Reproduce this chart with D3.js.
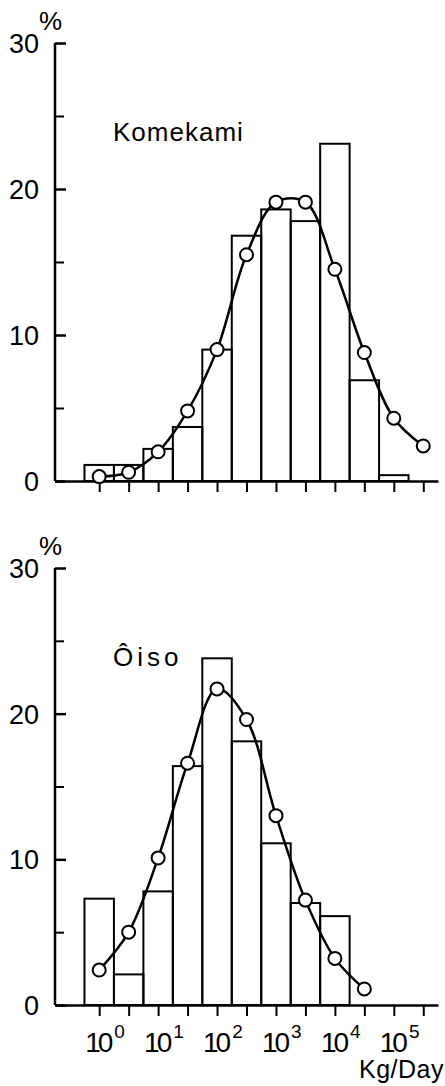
<!DOCTYPE html>
<html>
<head>
<meta charset="utf-8">
<script src="https://cdn.jsdelivr.net/npm/d3@7"></script>
<style>
  body { margin: 0; background: #fff; }
  svg { display: block; }
  .lbl { font-family: "Liberation Sans", Arial, sans-serif; fill: #000; }
</style>
</head>
<body>
<svg id="chart" width="445" height="1086"></svg>
<script>
// Bin centres as log10 exponents (each bin is half a decade wide)
const topBinExp = [0, 0.5, 1, 1.5, 2, 2.5, 3, 3.5, 4, 4.5, 5];
const topBars = [1.1, 1.1, 2.2, 3.7, 9.0, 16.8, 18.6, 17.8, 23.1, 6.9, 0.4];
const topPointExp = [0, 0.5, 1, 1.5, 2, 2.5, 3, 3.5, 4, 4.5, 5, 5.5];
const topPoints = [0.3, 0.6, 2.0, 4.8, 9.0, 15.5, 19.1, 19.1, 14.5, 8.8, 4.3, 2.4];

const botBinExp = [0, 0.5, 1, 1.5, 2, 2.5, 3, 3.5, 4];
const botBars = [7.3, 2.1, 7.8, 16.4, 23.8, 18.1, 11.1, 7.0, 6.1];
const botPointExp = [0, 0.5, 1, 1.5, 2, 2.5, 3, 3.5, 4, 4.5];
const botPoints = [2.4, 5.0, 10.1, 16.6, 21.7, 19.6, 13.0, 7.2, 3.2, 1.1];

const yTicks = [0, 10, 20, 30];
const yMinor = [5, 15, 25];
const xTickExp = [0, 0.5, 1, 1.5, 2, 2.5, 3, 3.5, 4, 4.5, 5, 5.5];
const xLabelExp = [0, 1, 2, 3, 4, 5];

const svg = d3.select("#chart");

// Shared log x scale
let x = d3.scaleLog().domain([Math.pow(10, -0.75), Math.pow(10, 5.75)]).range([55, 438]);

function drawPanel(title, titleSpacing, top, bottom, binExp, bars, ptExp, pts, showLabels) {
    let y = d3.scaleLinear().domain([0, 30]).range([bottom, top]);
    let g = svg.append("g");

    // bars
    g.selectAll("rect.bar")
        .data(bars)
        .enter().append("rect")
        .attr("class", "bar")
        .attr("x", (d, i) => x(Math.pow(10, binExp[i] - 0.25)))
        .attr("width", (d, i) => x(Math.pow(10, binExp[i] + 0.25)) - x(Math.pow(10, binExp[i] - 0.25)))
        .attr("y", d => y(d))
        .attr("height", d => y(0) - y(d))
        .attr("fill", "none")
        .attr("stroke", "#000")
        .attr("stroke-width", 2);

    // y axis (ticks pointing inward)
    let yAxis = d3.axisRight(y).tickValues(yTicks).tickSize(11).tickFormat("");
    g.append("g")
        .attr("transform", "translate(" + x.range()[0] + ",0)")
        .call(yAxis)
        .call(s => s.select(".domain").attr("d", "M0," + y(30) + "V" + y(0)))
        .call(s => s.selectAll("line").attr("stroke-width", 2.5));
    g.append("g")
        .attr("transform", "translate(" + x.range()[0] + ",0)")
        .call(d3.axisRight(y).tickValues(yMinor).tickSize(9).tickFormat(""))
        .call(s => s.select(".domain").remove())
        .call(s => s.selectAll("line").attr("stroke-width", 2));
    g.selectAll("g path.domain").attr("stroke-width", 2.5);

    g.selectAll("text.ylab")
        .data(yTicks)
        .enter().append("text")
        .attr("class", "lbl ylab")
        .attr("x", 39)
        .attr("y", d => y(d) + 10)
        .attr("text-anchor", "end")
        .attr("font-size", 27)
        .text(d => d);

    g.append("text")
        .attr("class", "lbl")
        .attr("x", 39)
        .attr("y", top - 13)
        .attr("font-size", 26)
        .text("%");

    // x axis (ticks pointing down)
    let xAxis = d3.axisBottom(x)
        .tickValues(xTickExp.map(e => Math.pow(10, e)))
        .tickSize(11)
        .tickSizeOuter(0)
        .tickFormat("");
    g.append("g")
        .attr("transform", "translate(0," + y(0) + ")")
        .call(xAxis)
        .call(s => s.select(".domain").attr("stroke-width", 2.5))
        .call(s => s.selectAll("line").attr("stroke-width", 2));

    if (showLabels) {
        let lab = g.selectAll("text.xlab")
            .data(xLabelExp)
            .enter().append("text")
            .attr("class", "lbl xlab")
            .attr("x", d => x(Math.pow(10, d)) - 14)
            .attr("y", y(0) + 47)
            .attr("font-size", 28)
            .attr("letter-spacing", -3);
        lab.append("tspan").text("10");
        lab.append("tspan")
            .attr("dx", 4)
            .attr("dy", -14)
            .attr("font-size", 19)
            .text(d => d);
        g.append("text")
            .attr("class", "lbl")
            .attr("x", 444)
            .attr("y", y(0) + 73)
            .attr("text-anchor", "end")
            .attr("font-size", 25)
            .attr("letter-spacing", 0.5)
            .text("Kg/Day");
    }

    // title
    g.append("text")
        .attr("class", "lbl")
        .attr("x", 113)
        .attr("y", y(23.3))
        .attr("font-size", 26)
        .attr("letter-spacing", titleSpacing)
        .text(title);

    // smoothed line through points
    let line = d3.line()
        .x((d, i) => x(Math.pow(10, ptExp[i])))
        .y(d => y(d))
        .curve(d3.curveCatmullRom.alpha(0.5));
    g.append("path")
        .datum(pts)
        .attr("d", line)
        .attr("fill", "none")
        .attr("stroke", "#000")
        .attr("stroke-width", 2.5);

    g.selectAll("circle.pt")
        .data(pts)
        .enter().append("circle")
        .attr("class", "pt")
        .attr("cx", (d, i) => x(Math.pow(10, ptExp[i])))
        .attr("cy", d => y(d))
        .attr("r", 6.5)
        .attr("fill", "#fff")
        .attr("stroke", "#000")
        .attr("stroke-width", 2);
}

drawPanel("Komekami", 1, 43, 481, topBinExp, topBars, topPointExp, topPoints, false);
drawPanel("Ôiso", 4, 568, 1005, botBinExp, botBars, botPointExp, botPoints, true);
</script>
</body>
</html>
